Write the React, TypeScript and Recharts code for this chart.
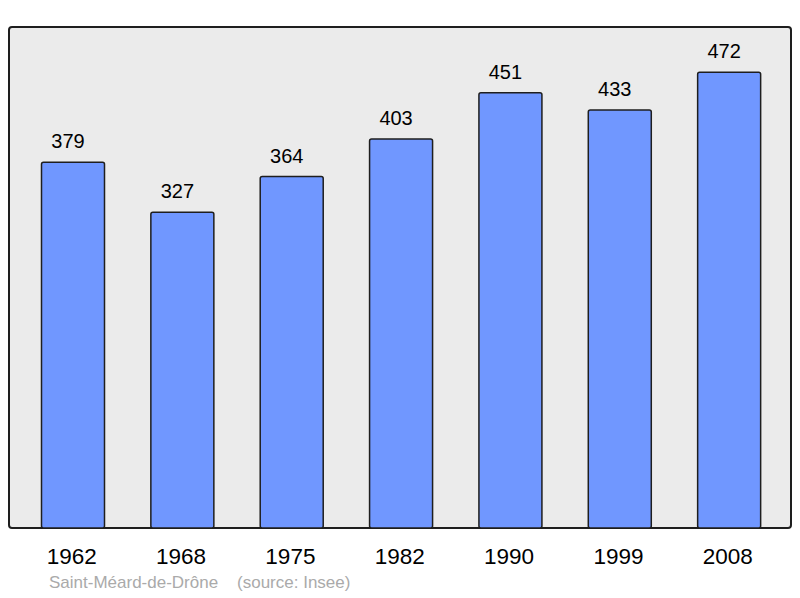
import { Bar, BarChart, LabelList, XAxis, YAxis } from "recharts";

const years = ["1962", "1968", "1975", "1982", "1990", "1999", "2008"];
const population = [379, 327, 364, 403, 451, 433, 472];

const data = years.map((year, i) => ({ year, population: population[i] }));

const W = 800;
const H = 598;
const margin = { top: 27, right: 9, bottom: 40, left: 8.5 };

export default function App() {
  return (
    <div
      style={{
        position: "absolute",
        left: 0,
        top: 0,
        width: W,
        height: H,
        background: "#ffffff",
        fontFamily: "'Liberation Sans', Arial, sans-serif"
      }}
    >
      <div
        style={{
          position: "absolute",
          left: 7.5,
          top: 26,
          width: 784.5,
          height: 503,
          background: "#ebebeb",
          border: "2px solid #1e1e1e",
          borderRadius: 4,
          boxSizing: "border-box"
        }}
      />
      <div style={{ position: "absolute", left: 0, top: 0 }}>
        <BarChart width={W} height={H} data={data} margin={margin}>
          <XAxis
            axisLine={false}
            dataKey="year"
            height={30}
            padding={{ left: 10, right: 7 }}
            tick={{ fill: "#000000", fontSize: 22.5, dx: -1.5 }}
            tickLine={false}
            tickMargin={20}
            tickSize={0}
          />
          <YAxis domain={[0, 519]} hide type="number" />
          <Bar
            dataKey="population"
            barSize={63}
            fill="#7097ff"
            isAnimationActive={false}
            radius={2}
            stroke="#1e1e1e"
            strokeWidth={1.5}
          >
            <LabelList
              dataKey="population"
              dx={-5}
              fill="#000000"
              fontSize={20}
              offset={14}
              position="top"
            />
          </Bar>
        </BarChart>
      </div>
      <div
        style={{
          position: "absolute",
          left: 49,
          top: 573,
          fontSize: 17,
          color: "#aaaaaa",
          whiteSpace: "pre"
        }}
      >
        {"Saint-Méard-de-Drône    (source: Insee)"}
      </div>
    </div>
  );
}
